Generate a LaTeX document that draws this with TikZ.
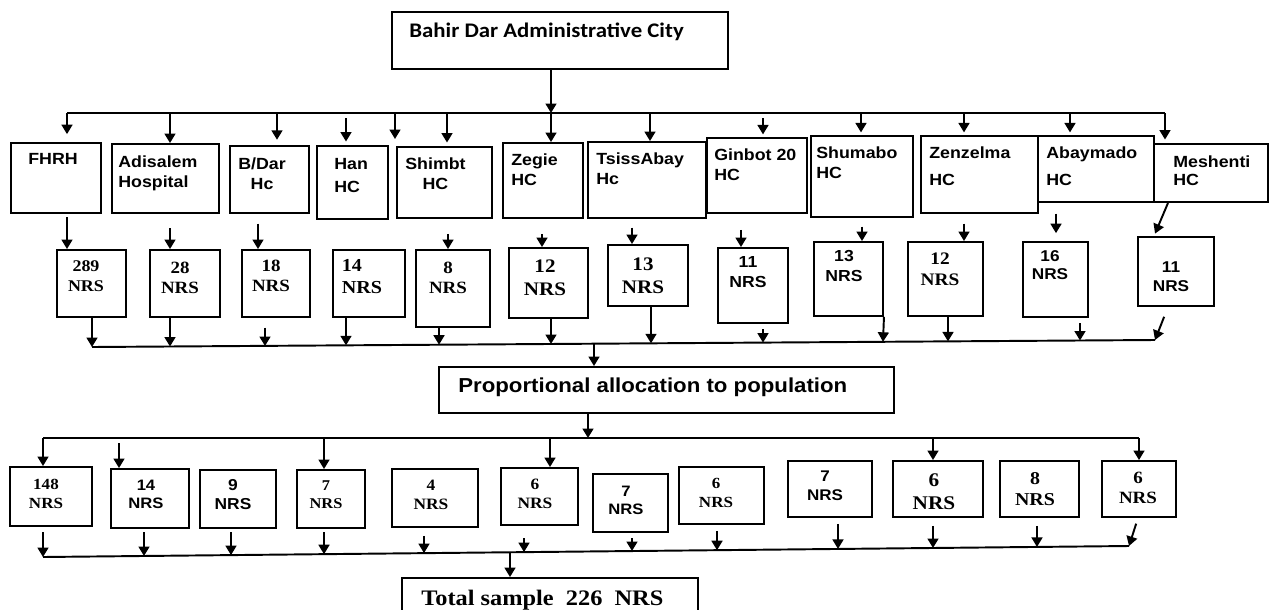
\documentclass[tikz,border=0pt]{standalone}
\usepackage{fontspec}
\newfontfamily\hcsans{Liberation Sans}[FakeStretch=1.1]
\newfontfamily\hcserif{Liberation Serif}[FakeStretch=1.1]
\newfontfamily\hccalib{Carlito}[FakeStretch=1.1]
\usetikzlibrary{arrows.meta}

\tikzset{
  box/.style={draw, line width=1.1pt, inner sep=0pt},
  hclab/.style={font=\hcsans\bfseries\fontsize{9.2}{11.8}\selectfont, align=left, anchor=north west, inner sep=0pt},
  nrsrm/.style={font=\hcserif\bfseries\fontsize{#1}{\dimexpr #1pt*6/5\relax}\selectfont, align=center, inner sep=0pt},
  nrssf/.style={font=\hcsans\bfseries\fontsize{#1}{\dimexpr #1pt*6/5\relax}\selectfont, align=center, inner sep=0pt},
  arr/.style={line width=1.1pt, -{Triangle[length=5.4pt,width=6.2pt]}},
  bus/.style={line width=1.1pt},
}

\begin{document}
\begin{tikzpicture}[x=0.02cm, y=-0.02cm]
\useasboundingbox (0,0) rectangle (1275,609);
\clip (0,0) rectangle (1275,609);

% top box
\node[box, minimum width=6.72cm, minimum height=1.14cm] (city) at (560,40.5) {};
\node[font=\hccalib\bfseries\fontsize{11.8}{14}\selectfont, anchor=base west, inner sep=0pt] (city-t) at (409,37) {Bahir Dar Administrative City};

% health facilities
\node[box, minimum width=1.8cm, minimum height=1.4cm] (fhrh) at (56,178) {};
\node[box, minimum width=2.14cm, minimum height=1.38cm] (adis) at (165.5,178.5) {};
\node[box, minimum width=1.58cm, minimum height=1.34cm] (bdar) at (269.5,179.5) {};
\node[box, minimum width=1.42cm, minimum height=1.46cm] (han) at (352.5,182.5) {};
\node[box, minimum width=1.9cm, minimum height=1.42cm] (shim) at (444.5,182.5) {};
\node[box, minimum width=1.6cm, minimum height=1.5cm] (zeg) at (543,180.5) {};
\node[box, minimum width=2.36cm, minimum height=1.52cm] (tsis) at (647,180) {};
\node[box, minimum width=2.0cm, minimum height=1.5cm] (ginb) at (757,175.5) {};
\node[box, minimum width=2.04cm, minimum height=1.62cm] (shum) at (862,176.5) {};
\node[box, minimum width=2.34cm, minimum height=1.54cm] (zenz) at (979.5,174.5) {};
\node[box, minimum width=2.32cm, minimum height=1.32cm] (abay) at (1096,169) {};
\node[box, minimum width=2.28cm, minimum height=1.16cm] (mesh) at (1211,173) {};

\node[hclab] (fhrh-t) at (28,153) {FHRH};
\node[hclab] (adis-t) at (118,155) {Adisalem\\Hospital};
\node[hclab, align=center] (bdar-t) at (238,157) {B/Dar\\Hc};
\node[hclab] (han-t) at (334,158) {Han\\[1.5pt]HC};
\node[hclab, align=center] (shim-t) at (405,157) {Shimbt\\HC};
\node[hclab] (zeg-t) at (511,153) {Zegie\\HC};
\node[hclab] (tsis-t) at (596,152) {TsissAbay\\Hc};
\node[hclab] (ginb-t) at (714,148) {Ginbot 20\\HC};
\node[hclab] (shum-t) at (816,146) {Shumabo\\HC};
\node[hclab] (zenz-t) at (929,146) {Zenzelma\\[4pt]HC};
\node[hclab] (abay-t) at (1046,146) {Abaymado\\[4pt]HC};
\node[hclab] (mesh-t) at (1173,155) {Meshenti\\[-1.5pt]HC};

% samples per facility
\node[box, minimum width=1.38cm, minimum height=1.34cm] (s289) at (91.5,283.5) {};
\node[box, minimum width=1.4cm, minimum height=1.34cm] (s28) at (185,283.5) {};
\node[box, minimum width=1.36cm, minimum height=1.34cm] (s18) at (276,283.5) {};
\node[box, minimum width=1.44cm, minimum height=1.34cm] (s14a) at (369,283.5) {};
\node[box, minimum width=1.48cm, minimum height=1.54cm] (s8) at (453,288.5) {};
\node[box, minimum width=1.58cm, minimum height=1.4cm] (s12a) at (548.5,283) {};
\node[box, minimum width=1.6cm, minimum height=1.22cm] (s13a) at (648,275.5) {};
\node[box, minimum width=1.4cm, minimum height=1.5cm] (s11a) at (753,285.5) {};
\node[box, minimum width=1.38cm, minimum height=1.48cm] (s13b) at (848.5,279) {};
\node[box, minimum width=1.5cm, minimum height=1.48cm] (s12b) at (945.5,279) {};
\node[box, minimum width=1.3cm, minimum height=1.5cm] (s16) at (1055.5,279.5) {};
\node[box, minimum width=1.52cm, minimum height=1.38cm] (s11b) at (1176,271.5) {};

\node[nrsrm=9.3] (s289-t) at (86,276) {289\\NRS};
\node[nrsrm=9.8] (s28-t) at (180,278) {28\\NRS};
\node[nrsrm=9.8] (s18-t) at (271,276) {18\\NRS};
\node[nrsrm=10.4, align=left] (s14a-t) at (362,277) {14\\NRS};
\node[nrsrm=9.8] (s8-t) at (448,278) {8\\NRS};
\node[nrsrm=10.9] (s12a-t) at (545,278) {12\\NRS};
\node[nrsrm=10.9] (s13a-t) at (643,276) {13\\NRS};
\node[nrssf=9.1] (s11a-t) at (748,272) {11\\NRS};
\node[nrssf=9.1] (s13b-t) at (844,266) {13\\NRS};
\node[nrsrm=10] (s12b-t) at (940,269) {12\\NRS};
\node[nrssf=8.9] (s16-t) at (1050,265) {16\\NRS};
\node[nrssf=8.9] (s11b-t) at (1171,277) {11\\NRS};

% allocation
\node[box, minimum width=9.1cm, minimum height=0.92cm] (prop) at (666.5,390) {};
\node[font=\hcsans\bfseries\fontsize{11.5}{14}\selectfont, anchor=base west, inner sep=0pt] (prop-t) at (458,392) {Proportional allocation to population};

% allocated samples
\node[box, minimum width=1.64cm, minimum height=1.18cm] (p148) at (51,496.5) {};
\node[box, minimum width=1.56cm, minimum height=1.18cm] (p14) at (150,498.5) {};
\node[box, minimum width=1.52cm, minimum height=1.16cm] (p9) at (238,499) {};
\node[box, minimum width=1.36cm, minimum height=1.16cm] (p7a) at (331,499) {};
\node[box, minimum width=1.72cm, minimum height=1.16cm] (p4) at (435,498) {};
\node[box, minimum width=1.54cm, minimum height=1.14cm] (p6a) at (539.5,496.5) {};
\node[box, minimum width=1.5cm, minimum height=1.16cm] (p7b) at (630.5,503) {};
\node[box, minimum width=1.7cm, minimum height=1.14cm] (p6b) at (721.5,495.5) {};
\node[box, minimum width=1.68cm, minimum height=1.12cm] (p7c) at (830,489) {};
\node[box, minimum width=1.8cm, minimum height=1.12cm] (p6c) at (938,489) {};
\node[box, minimum width=1.58cm, minimum height=1.12cm] (p8) at (1039.5,489) {};
\node[box, minimum width=1.48cm, minimum height=1.12cm] (p6d) at (1139,489) {};

\node[nrsrm=8.8] (p148-t) at (46,494) {148\\NRS};
\node[nrssf=8.6] (p14-t) at (146,494) {14\\NRS};
\node[nrssf=9] (p9-t) at (233,495) {9\\NRS};
\node[nrsrm=8.5] (p7a-t) at (326,495) {7\\NRS};
\node[nrsrm=9] (p4-t) at (431,495) {4\\NRS};
\node[nrsrm=9] (p6a-t) at (535,494) {6\\NRS};
\node[nrssf=8.6] (p7b-t) at (626,500) {7\\NRS};
\node[nrsrm=8.8] (p6b-t) at (716,493) {6\\NRS};
\node[nrssf=8.8] (p7c-t) at (825,486) {7\\NRS};
\node[nrsrm=11] (p6c-t) at (934,492) {6\\NRS};
\node[nrsrm=10.3] (p8-t) at (1035,489) {8\\NRS};
\node[nrsrm=9.8] (p6d-t) at (1138,488) {6\\NRS};

% total
\node[box, minimum width=5.92cm, minimum height=1.24cm] (total) at (550,609) {};
\node[font=\hcserif\bfseries\fontsize{12.6}{15}\selectfont, anchor=base west, inner sep=0pt] (total-t) at (421,605) {Total sample\ \ 226\ \ NRS};

% city to facilities
\draw[arr] (551,0 |- city.south) -- (551,113);
\draw[bus] (67,113) -- (1165,113);
\coordinate (stray) at (395,139);
\draw[arr, shorten >=4.5pt] (67,113) -- (67,0 |- fhrh.north);
\draw[arr] (170,113) -- (170,0 |- adis.north);
\draw[arr, shorten >=3pt] (277,113) -- (277,0 |- bdar.north);
\draw[arr, shorten >=2pt] (346,118) -- (346,0 |- han.north);
\draw[arr] (395,113) -- (stray);
\draw[arr, shorten >=2pt] (447,113) -- (447,0 |- shim.north);
\draw[arr] (551,113) -- (551,0 |- zeg.north);
\draw[arr] (650,113) -- (650,0 |- tsis.north);
\draw[arr, shorten >=1.5pt] (763,118) -- (763,0 |- ginb.north);
\draw[arr, shorten >=1.5pt] (861,113) -- (861,0 |- shum.north);
\draw[arr, shorten >=1.5pt] (964,113) -- (964,0 |- zenz.north);
\draw[arr, shorten >=1.5pt] (1070,113) -- (1070,0 |- abay.north);
\draw[arr, shorten >=2pt] (1165,113) -- (1165,0 |- mesh.north);

% facilities to samples
\draw[arr, shorten <=2pt] (67,0 |- fhrh.south) -- (67,0 |- s289.north);
\draw[arr, shorten <=8pt] (170,0 |- adis.south) -- (170,0 |- s28.north);
\draw[arr, shorten <=5.5pt] (258,0 |- bdar.south) -- (258,0 |- s18.north);
\draw[arr, shorten <=8.5pt] (448,0 |- shim.south) -- (448,0 |- s8.north);
\draw[arr, shorten <=8.5pt] (542,0 |- zeg.south) -- (542,0 |- s12a.north);
\draw[arr, shorten <=5pt] (632,0 |- tsis.south) -- (632,0 |- s13a.north);
\draw[arr, shorten <=9pt] (741,0 |- ginb.south) -- (741,0 |- s11a.north);
\draw[arr, shorten <=5pt] (862,0 |- shum.south) -- (862,0 |- s13b.north);
\draw[arr, shorten <=5.5pt] (964,0 |- zenz.south) -- (964,0 |- s12b.north);
\draw[arr, shorten <=6pt, shorten >=4.5pt] (1056,0 |- abay.south) -- (1056,0 |- s16.north);
\draw[arr, shorten >=1.5pt] (1168,0 |- mesh.south) -- (1154,0 |- s11b.north);

% samples to allocation
\draw[bus] (92,347) -- (1155,340);
\draw[arr] (92,0 |- s289.south) -- (92,347);
\draw[arr] (170,0 |- s28.south) -- (170,346.5);
\draw[arr, shorten <=5.5pt] (265,0 |- s18.south) -- (265,346);
\draw[arr] (346,0 |- s14a.south) -- (346,345.3);
\draw[arr] (439,0 |- s8.south) -- (439,344.7);
\draw[arr] (551,0 |- s12a.south) -- (551,344);
\draw[arr] (651,0 |- s13a.south) -- (651,343.3);
\draw[arr, shorten <=3pt] (763,0 |- s11a.south) -- (763,342.6);
\draw[arr] (s13b.south east) -- (883,341.8);
\draw[arr] (948,0 |- s12b.south) -- (948,341.4);
\draw[arr, shorten <=3pt] (1080,0 |- s16.south) -- (1080,340.5);
\draw[arr, shorten <=6pt] (1168,0 |- s11b.south) -- (1155,340);
\draw[arr] (594,343.7) -- (594,0 |- prop.north);

% allocation to samples
\draw[arr] (588,0 |- prop.south) -- (588,438);
\draw[bus] (43,438) -- (1139,438);
\draw[arr] (43,438) -- (43,0 |- p148.north);
\draw[arr] (119,443) -- (119,0 |- p14.north);
\draw[arr] (324,438) -- (324,0 |- p7a.north);
\draw[arr] (550,438) -- (550,0 |- p6a.north);
\draw[arr] (933,438) -- (933,0 |- p6c.north);
\draw[arr] (1139,438) -- (1139,0 |- p6d.north);

% samples to total
\draw[bus] (43,557) -- (1129,546);
\draw[arr, shorten <=3pt] (43,0 |- p148.south) -- (43,557);
\draw[arr, shorten <=2pt] (144,0 |- p14.south) -- (144,556);
\draw[arr, shorten <=2pt] (231,0 |- p9.south) -- (231,555.1);
\draw[arr, shorten <=2pt] (324,0 |- p7a.south) -- (324,554.2);
\draw[arr, shorten <=4.5pt] (424,0 |- p4.south) -- (424,553.1);
\draw[arr, shorten <=7pt] (524,0 |- p6a.south) -- (524,552.1);
\draw[arr, shorten <=3pt] (632,0 |- p7b.south) -- (632,551);
\draw[arr, shorten <=3.4pt] (717,0 |- p6b.south) -- (717,550.2);
\draw[arr, shorten <=3.4pt] (838,0 |- p7c.south) -- (838,548.9);
\draw[arr, shorten <=4.5pt] (933,0 |- p6c.south) -- (933,548);
\draw[arr, shorten <=4.5pt] (1037,0 |- p8.south) -- (1037,546.9);
\draw[arr, shorten <=3.4pt] (1138,0 |- p6d.south) -- (1129,546);
\draw[arr] (510,552.3) -- (510,0 |- total.north);
\end{tikzpicture}
\end{document}
